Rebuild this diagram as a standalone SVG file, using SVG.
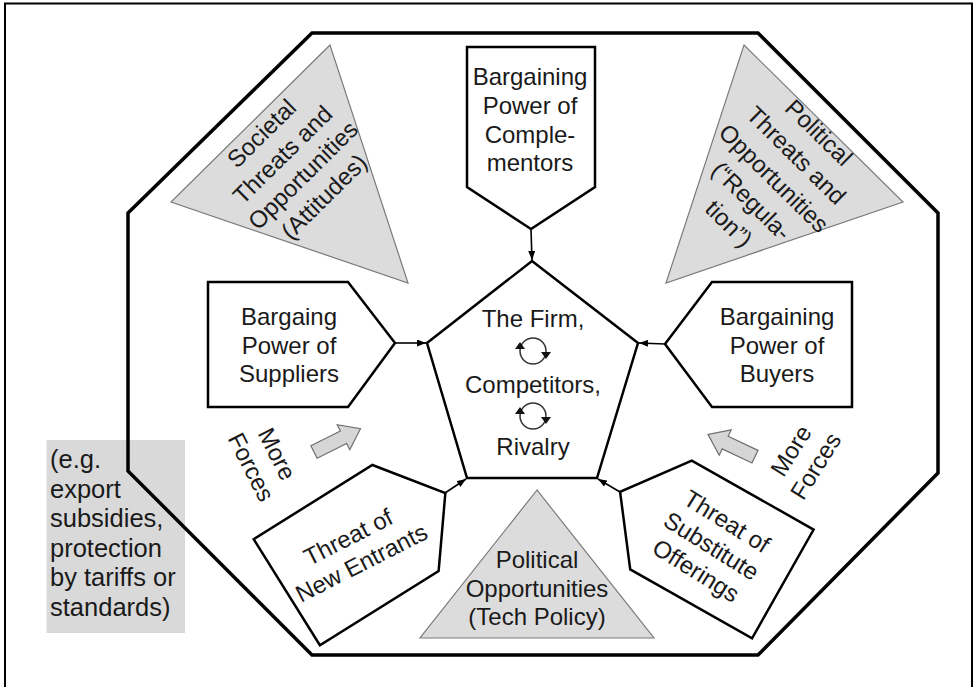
<svg xmlns="http://www.w3.org/2000/svg" width="978" height="687" viewBox="0 0 978 687">
  <defs>
    <style>
      .lbl { font-family: "Liberation Sans", Arial, sans-serif; font-size: 24px; fill: #1a1a1a; text-anchor: middle; }
      .lft { text-anchor: start; font-size: 25.5px; }
      .box { fill: #ffffff; stroke: #000000; stroke-width: 2.5; stroke-linejoin: miter; }
      .tri { fill: #dcdcdc; stroke: #7a7a7a; stroke-width: 1.2; }
      .conn { stroke: #000000; stroke-width: 1.6; fill: none; }
      .blk { fill: #d6d6d6; stroke: #6e6e6e; stroke-width: 1.2; }
    </style>
    <marker id="arr" viewBox="0 0 9 7" refX="9" refY="3.5" markerWidth="9" markerHeight="7" markerUnits="userSpaceOnUse" orient="auto">
      <path d="M0,0 L9,3.5 L0,7 z" fill="#000000"/>
    </marker>
    <!-- small clockwise cycle icon -->
    <g id="cycle">
      <circle cx="0" cy="0" r="13" fill="none" stroke="#333333" stroke-width="1.5"/>
      <path d="M-18,-2 L-8,-2 L-13,-9 z" fill="#111111"/>
      <path d="M8,1 L18,1 L13,8 z" fill="#111111"/>
    </g>
    <!-- grey block arrow pointing along +x -->
    <polygon id="blockArrow" points="0,-7 33,-7 33,-14 52,0 33,14 33,7 0,7"/>
  </defs>

  <!-- page frame (open at the bottom edge) -->
  <rect x="5" y="3.5" width="967" height="700" fill="#ffffff" stroke="#000000" stroke-width="2"/>

  <!-- note box on the left -->
  <g id="note">
    <rect x="46.5" y="440" width="138.5" height="193" fill="#d9d9d9"/>
    <text class="lbl lft" x="50" y="468">(e.g.</text>
    <text class="lbl lft" x="50" y="497.5">export</text>
    <text class="lbl lft" x="50" y="527">subsidies,</text>
    <text class="lbl lft" x="50" y="556.5">protection</text>
    <text class="lbl lft" x="50" y="586">by tariffs or</text>
    <text class="lbl lft" x="50" y="615.5">standards)</text>
  </g>

  <!-- environment octagon -->
  <g id="environment">
    <polygon points="312,33 758,33 938,213 938,473 758,655 312,655 128,471 128,213" fill="none" stroke="#000000" stroke-width="3.5" stroke-linejoin="miter"/>
  </g>

  <!-- societal triangle -->
  <g id="societal">
    <polygon class="tri" points="330,45 171,202 408,283"/>
    <g transform="translate(250.5,123.5) rotate(-44.6)">
      <text class="lbl" x="1" y="23">Societal</text>
      <text class="lbl" x="1" y="53">Threats and</text>
      <text class="lbl" x="1" y="82">Opportunities</text>
      <text class="lbl" x="1" y="112">(Attitudes)</text>
    </g>
  </g>

  <!-- political / regulation triangle -->
  <g id="political-regulation">
    <polygon class="tri" points="744,45 903,202 666,283"/>
    <g transform="translate(823.5,123.5) rotate(44.6)">
      <text class="lbl" x="3" y="18">Political</text>
      <text class="lbl" x="3" y="50">Threats and</text>
      <text class="lbl" x="3" y="82">Opportunities</text>
      <text class="lbl" x="3" y="114">(“Regula-</text>
      <text class="lbl" x="3" y="146">tion”)</text>
    </g>
  </g>

  <!-- political / tech policy triangle -->
  <g id="political-tech">
    <polygon class="tri" points="537,490 420,638 654,638"/>
    <text class="lbl" x="537" y="568">Political</text>
    <text class="lbl" x="537" y="597">Opportunities</text>
    <text class="lbl" x="537" y="625">(Tech Policy)</text>
  </g>

  <!-- complementors -->
  <g id="complementors">
    <polygon class="box" points="467,47 595,47 595,187 531,229 467,187"/>
    <text class="lbl" x="530" y="85">Bargaining</text>
    <text class="lbl" x="530" y="114">Power of</text>
    <text class="lbl" x="530" y="143">Comple-</text>
    <text class="lbl" x="530" y="171">mentors</text>
  </g>

  <!-- suppliers -->
  <g id="suppliers">
    <polygon class="box" points="208,282 348,282 395,343 348,407 208,407"/>
    <text class="lbl" x="289" y="325">Bargaing</text>
    <text class="lbl" x="289" y="354">Power of</text>
    <text class="lbl" x="289" y="382">Suppliers</text>
  </g>

  <!-- buyers -->
  <g id="buyers">
    <polygon class="box" points="852,282 712,282 665,344 712,407 852,407"/>
    <text class="lbl" x="777" y="325">Bargaining</text>
    <text class="lbl" x="777" y="354">Power of</text>
    <text class="lbl" x="777" y="382">Buyers</text>
  </g>

  <!-- new entrants -->
  <g id="new-entrants">
    <polygon class="box" transform="translate(405.5,518) rotate(-32)" points="-140,-62.5 0,-62.5 47,0 0,62.5 -140,62.5"/>
    <g transform="translate(352,544.5) rotate(-27)">
      <text class="lbl" x="0" y="0">Threat of</text>
      <text class="lbl" x="0" y="29">New Entrants</text>
    </g>
  </g>

  <!-- substitutes -->
  <g id="substitutes">
    <polygon class="box" transform="translate(661,515) rotate(29.5)" points="140,-62.5 0,-62.5 -47,0 0,62.5 140,62.5"/>
    <g transform="translate(707,553) rotate(32)">
      <text class="lbl" x="0" y="-29">Threat of</text>
      <text class="lbl" x="0" y="0">Substitute</text>
      <text class="lbl" x="0" y="29">Offerings</text>
    </g>
  </g>

  <!-- the firm at the centre -->
  <g id="firm">
    <polygon class="box" points="532,261 638,343 597,478 467,478 427,343"/>
    <text class="lbl" x="533" y="327">The Firm,</text>
    <use href="#cycle" x="533" y="351"/>
    <text class="lbl" x="533" y="393">Competitors,</text>
    <use href="#cycle" x="533" y="416"/>
    <text class="lbl" x="533" y="455">Rivalry</text>
  </g>

  <!-- more forces, left -->
  <g id="more-forces-left">
    <use href="#blockArrow" class="blk" transform="translate(314,452) rotate(-26.6)"/>
    <g transform="translate(269.7,457.7) rotate(63)">
      <text class="lbl" x="0" y="0">More</text>
      <text class="lbl" x="0" y="29">Forces</text>
    </g>
  </g>

  <!-- more forces, right -->
  <g id="more-forces-right">
    <use href="#blockArrow" class="blk" transform="translate(755,456.7) rotate(205.4)"/>
    <g transform="translate(798,455) rotate(-58)">
      <text class="lbl" x="0" y="0">More</text>
      <text class="lbl" x="0" y="29">Forces</text>
    </g>
  </g>

  <!-- connectors into the firm -->
  <g id="connectors">
    <line class="conn" x1="531" y1="229" x2="532" y2="260" marker-end="url(#arr)"/>
    <line class="conn" x1="395" y1="343" x2="426" y2="343" marker-end="url(#arr)"/>
    <line class="conn" x1="665" y1="344" x2="639" y2="343" marker-end="url(#arr)"/>
    <line class="conn" x1="445" y1="493" x2="466" y2="479" marker-end="url(#arr)"/>
    <line class="conn" x1="620" y1="492" x2="598" y2="479" marker-end="url(#arr)"/>
  </g>
</svg>
